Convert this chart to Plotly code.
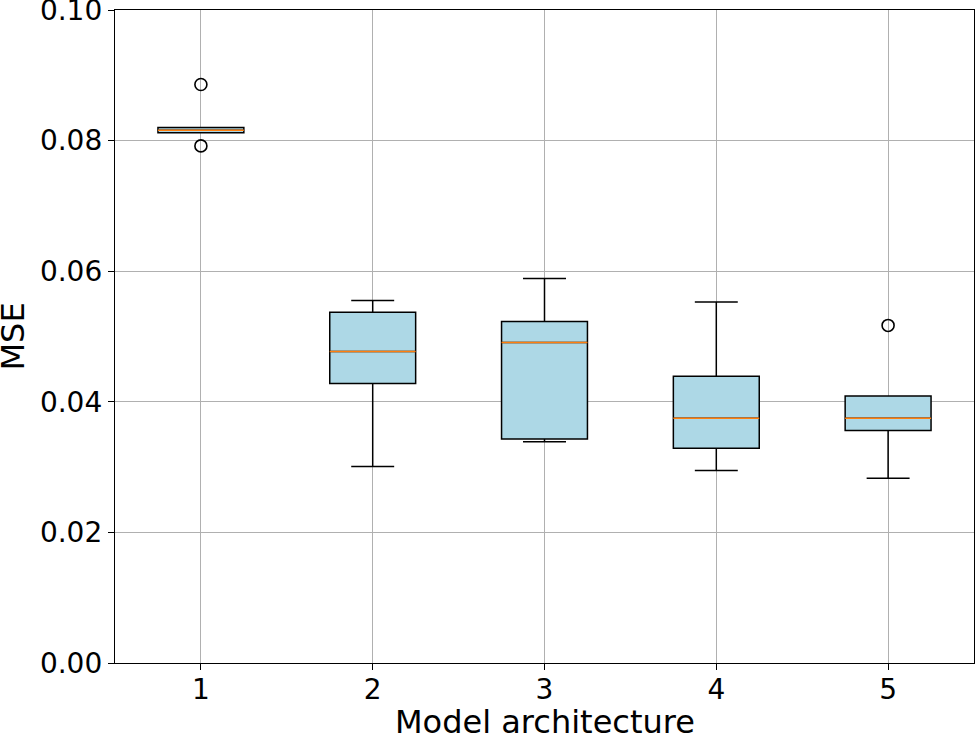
import plotly.graph_objects as go

# Box statistics (MSE per model architecture)
ARCHS       = [1, 2, 3, 4, 5]
Q1          = [0.0812, 0.0428, 0.0343, 0.0329, 0.0356]
MEDIAN      = [0.0816, 0.0477, 0.0491, 0.0375, 0.0375]
Q3          = [0.0820, 0.0537, 0.0523, 0.0439, 0.0409]
LOW_WHISK   = [0.0812, 0.0301, 0.0339, 0.0295, 0.0283]
HIGH_WHISK  = [0.0820, 0.0555, 0.0589, 0.0553, 0.0409]
OUTLIER_X   = [1, 1, 5]
OUTLIER_Y   = [0.0886, 0.0792, 0.0517]
YTICKS      = [0.00, 0.02, 0.04, 0.06, 0.08, 0.10]

BOX_W = 0.5
FONT = "DejaVu Sans"

fig = go.Figure()

fig.add_trace(go.Box(
    x=ARCHS, q1=Q1, median=MEDIAN, q3=Q3,
    lowerfence=LOW_WHISK, upperfence=HIGH_WHISK,
    width=BOX_W, whiskerwidth=0.5,
    fillcolor="#add8e6", line=dict(color="black", width=1.5),
    boxpoints=False, hoverinfo="skip", showlegend=False,
))

# orange median lines (matplotlib style)
mx, my = [], []
for a, m in zip(ARCHS, MEDIAN):
    mx += [a - BOX_W / 2, a + BOX_W / 2, None]
    my += [m, m, None]
fig.add_trace(go.Scatter(x=mx, y=my, mode="lines",
                         line=dict(color="#ff7f0e", width=1.5),
                         showlegend=False, hoverinfo="skip"))

# fliers
fig.add_trace(go.Scatter(x=OUTLIER_X, y=OUTLIER_Y, mode="markers",
                         marker=dict(symbol="circle-open", size=12,
                                     color="black", line=dict(width=1.6)),
                         showlegend=False, hoverinfo="skip"))

axis_common = dict(showline=True, linecolor="black", linewidth=1.3, mirror=True,
                   ticks="outside", ticklen=6, tickcolor="black", tickwidth=1.2,
                   showgrid=True, gridcolor="#b0b0b0", gridwidth=1,
                   zeroline=False, ticklabeloverflow="allow", automargin=False,
                   tickfont=dict(size=28, color="black", family=FONT))

fig.update_xaxes(range=[0.5, 5.5], tickvals=ARCHS, ticklabelstandoff=-5, **axis_common)
fig.update_yaxes(range=[0, 0.10001], tickvals=YTICKS,
                 ticktext=[f"{t:.2f}" for t in YTICKS], **axis_common)

# axis titles as annotations for exact placement
title_font = dict(size=32, color="black", family=FONT)
fig.add_annotation(text="Model architecture", xref="paper", yref="paper",
                   x=0.5, y=0, xanchor="center", yanchor="bottom", yshift=-80,
                   showarrow=False, font=title_font)
fig.add_annotation(text="MSE", xref="paper", yref="paper", textangle=-90,
                   x=0, y=0.5, xanchor="center", yanchor="middle", xshift=-103,
                   showarrow=False, font=title_font)

fig.update_layout(width=976, height=737, plot_bgcolor="white", paper_bgcolor="white",
                  margin=dict(l=115, r=2, t=10, b=74),
                  font=dict(family=FONT, color="black"))

# drop the browser's default body margin so the figure sits at the page corner
fig.write_html("out.html", config={"displayModeBar": False},
               post_script="document.body.style.margin='0';")
